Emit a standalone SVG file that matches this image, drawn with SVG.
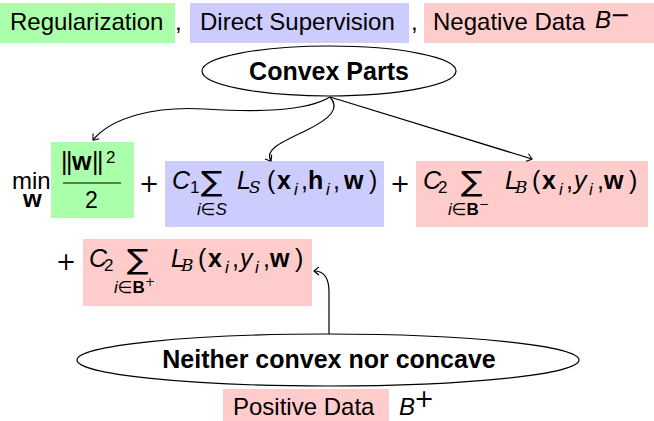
<svg xmlns="http://www.w3.org/2000/svg" width="654" height="421" viewBox="0 0 654 421">
<style>
text{font-family:"Liberation Sans",Arial,sans-serif;font-size:24px;fill:#000}
.f text{font-size:25px}
.it{font-style:italic}
.bf{font-weight:bold}
.f text.sb,.sb{font-size:17px}
.sym{font-family:"DejaVu Sans",sans-serif}
.f text.sum{font-family:"DejaVu Sans",sans-serif;font-size:28px}
.f text.cal{font-family:"DejaVu Serif",serif;font-style:italic;font-size:17px}
.plus{font-family:"DejaVu Sans",sans-serif;font-size:24px}
.lbl{font-weight:bold;font-size:25px;text-anchor:middle}
.g{fill:#aaffaa}.b{fill:#ccccff}.p{fill:#ffcccc}
.conn path{fill:none;stroke:#000;stroke-width:1.2}
ellipse{fill:#fff;stroke:#000;stroke-width:1.2}
</style>
<defs>
<marker id="ah" markerUnits="userSpaceOnUse" markerWidth="12" markerHeight="12" viewBox="-6 -6 12 12" refX="0" refY="0" orient="auto">
<path d="M-5,-4 Q-1,-1 0,0 Q-1,1 -5,4" fill="none" stroke="#000" stroke-width="1.1"/>
</marker>
</defs>

<g id="legend">
<rect class="g" x="0" y="3" width="175" height="40"/>
<text x="10" y="30">Regularization</text>
<text x="175" y="30">,</text>
<rect class="b" x="190" y="3" width="219" height="40"/>
<text x="200" y="30">Direct Supervision</text>
<text x="411" y="30">,</text>
<rect class="p" x="424" y="3" width="230" height="40"/>
<text x="433" y="30">Negative Data</text>
<text class="it" x="595" y="28">B</text>
<text class="sym" x="610" y="23" font-size="24px">−</text>
</g>

<g id="convex">
<ellipse cx="329" cy="71" rx="127" ry="25"/>
<text class="lbl" x="329" y="80">Convex Parts</text>
</g>

<g id="min">
<text x="12" y="189" font-size="23px">min</text>
<text class="bf" x="23" y="207" font-size="15px">w</text>
</g>

<g id="reg" class="f">
<rect class="g" x="51" y="142" width="83" height="76"/>
<text x="61" y="170">|</text>
<text x="66" y="170">|</text>
<text class="bf" x="72" y="170">w</text>
<text x="92" y="170">|</text>
<text x="97" y="170">|</text>
<text class="sb" x="106" y="163">2</text>
<line x1="63" y1="183" x2="121" y2="183" stroke="#000" stroke-width="1.1"/>
<text x="85" y="208" style="font-size:23px">2</text>
</g>

<text class="plus" x="139" y="192">+</text>

<g id="direct" class="f">
<rect class="b" x="165" y="161" width="219" height="66"/>
<text class="it" x="172" y="189">C</text>
<text class="sb" x="190" y="193">1</text>
<text class="sum" transform="translate(201,191) scale(1.15,1)">∑</text>
<text class="sb" x="197" y="215"><tspan class="it">i</tspan><tspan class="sym">∈</tspan><tspan class="it">S</tspan></text>
<text class="it" x="237" y="189">L</text>
<text class="cal" x="249" y="193">S</text>
<text x="267" y="189">(</text>
<text class="bf" x="277" y="189">x</text>
<text class="sb it" x="294" y="195">i</text>
<text x="301" y="189">,</text>
<text class="bf" x="308" y="189">h</text>
<text class="sb it" x="326" y="195">i</text>
<text x="333" y="189">,</text>
<text class="bf" x="344" y="189">w</text>
<text x="369" y="189">)</text>
</g>

<text class="plus" x="390" y="192">+</text>

<g id="negative" class="f">
<rect class="p" x="416" y="161" width="232" height="66"/>
<text class="it" x="423" y="189">C</text>
<text class="sb" x="438" y="193">2</text>
<text class="sum" transform="translate(461,191) scale(1.15,1)">∑</text>
<text class="sb" x="448" y="215"><tspan class="it">i</tspan><tspan class="sym">∈</tspan><tspan class="bf">B</tspan><tspan class="sym" font-size="12px" dy="-7">−</tspan></text>
<text class="it" x="505" y="189">L</text>
<text class="cal" x="515" y="193">B</text>
<text x="532" y="189">(</text>
<text class="bf" x="542" y="189">x</text>
<text class="sb it" x="559" y="195">i</text>
<text x="566" y="189">,</text>
<text class="it" x="574" y="189">y</text>
<text class="sb it" x="589" y="195">i</text>
<text x="597" y="189">,</text>
<text class="bf" x="604" y="189">w</text>
<text x="629" y="189">)</text>
</g>

<text class="plus" x="56" y="270">+</text>

<g id="positive" class="f">
<rect class="p" x="83" y="239" width="229" height="67"/>
<text class="it" x="89" y="267">C</text>
<text class="sb" x="104" y="271">2</text>
<text class="sum" transform="translate(127,269) scale(1.15,1)">∑</text>
<text class="sb" x="114" y="293"><tspan class="it">i</tspan><tspan class="sym">∈</tspan><tspan class="bf">B</tspan><tspan class="sym" font-size="12px" dy="-7">+</tspan></text>
<text class="it" x="171" y="267">L</text>
<text class="cal" x="181" y="271">B</text>
<text x="198" y="267">(</text>
<text class="bf" x="208" y="267">x</text>
<text class="sb it" x="225" y="273">i</text>
<text x="232" y="267">,</text>
<text class="it" x="240" y="267">y</text>
<text class="sb it" x="255" y="273">i</text>
<text x="263" y="267">,</text>
<text class="bf" x="270" y="267">w</text>
<text x="295" y="267">)</text>
</g>

<g id="nonconvex">
<ellipse cx="328" cy="360" rx="251" ry="26"/>
<text class="lbl" x="329" y="368">Neither convex nor concave</text>
</g>

<g id="posdata">
<rect class="p" x="223" y="389" width="166" height="32"/>
<text x="233" y="415">Positive Data</text>
<text class="it" x="399" y="415">B</text>
<text class="sym" x="414" y="407" font-size="22px">+</text>
</g>

<g class="conn" id="connectors">
<path d="M330,97 C305,112 255,112 205,109 C155,106 112,117 93,140" marker-end="url(#ah)"/>
<path d="M330,97 C340,108 332,118 305,131 C280,143 264,150 271,161" marker-end="url(#ah)"/>
<path d="M330,97 L532,159" marker-end="url(#ah)"/>
<path d="M329,334 L329,292 C329,279 324,271 314,271" marker-end="url(#ah)"/>
</g>
</svg>
